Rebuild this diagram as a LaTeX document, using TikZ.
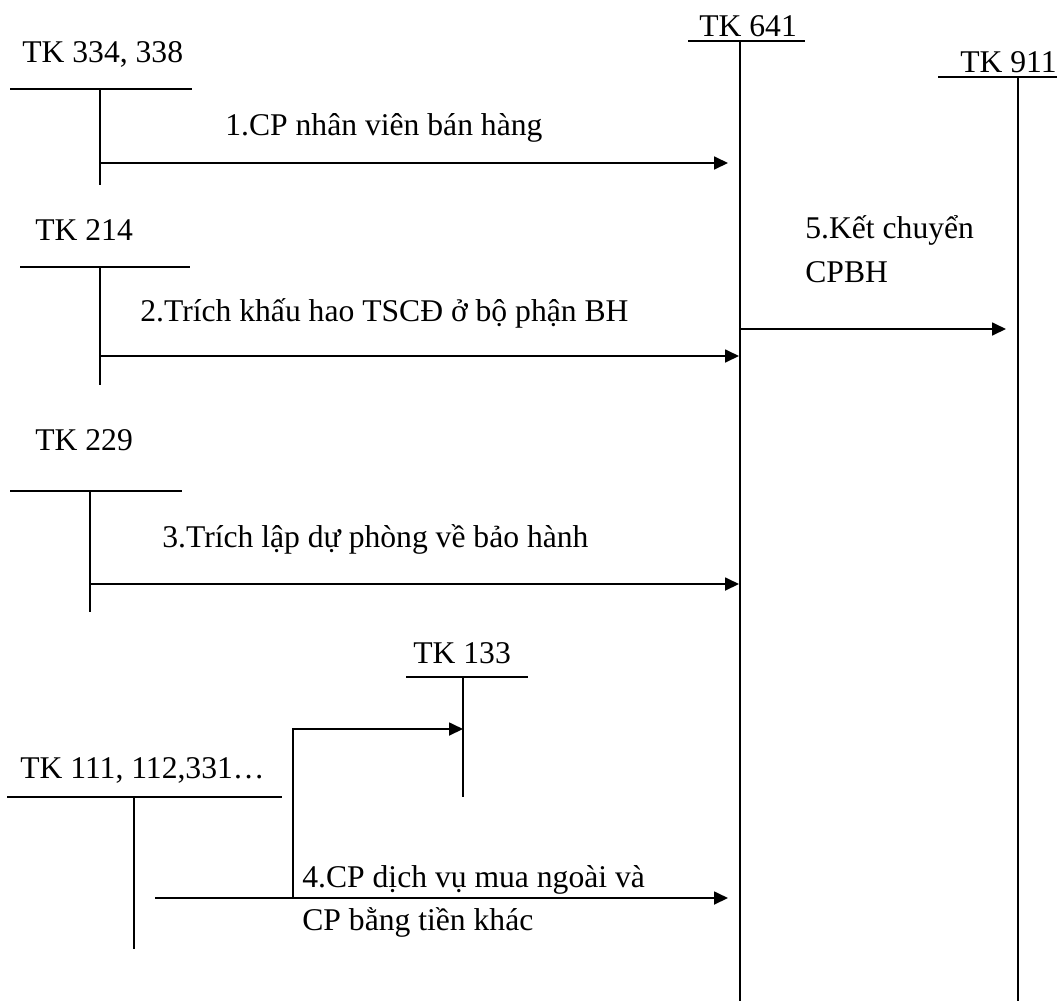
\documentclass[tikz,border=0pt]{standalone}
\usepackage{fontspec}
\setmainfont{Liberation Serif}
\usetikzlibrary{positioning,arrows.meta}
\tikzset{
  acc/.style={anchor=base west,inner sep=0pt,font=\fontsize{18}{22}\selectfont},
  lbl/.style={anchor=base west,inner sep=0pt,font=\fontsize{18}{22}\selectfont},
  tline/.style={draw=black,line width=1pt},
  flow/.style={draw=black,line width=1pt,-{Triangle[length=0.28cm,width=0.26cm]}},
}

\begin{document}
\begin{tikzpicture}[x=0.02cm,y=-0.02cm]
\useasboundingbox (0,0) rectangle (1057,1001);
% TK 641 and TK 911
\node[acc] (n641) at (699,36) {TK 641};
\coordinate (a641l) at (688,41);
\coordinate (a641r) at (805,41);
\coordinate (a641t) at (740,41);
\coordinate (a641b) at (740,1001);
\draw[tline] (a641l) -- (a641r);
\draw[tline] (a641t) -- (a641b);
\node[acc] (n911) at (960,72) {TK 911};
\coordinate (a911l) at (938,77);
\coordinate (a911r) at (1057,77);
\coordinate (a911t) at (1018,77);
\coordinate (a911b) at (1018,1001);
\draw[tline] (a911l) -- (a911r);
\draw[tline] (a911t) -- (a911b);
% TK 334, 338
\node[acc] (n334) at (22,62) {TK 334, 338};
\coordinate (a334l) at (10,89);
\coordinate (a334r) at (192,89);
\coordinate (a334t) at (100,89);
\coordinate (a334b) at (100,185);
\draw[tline] (a334l) -- (a334r);
\draw[tline] (a334t) -- (a334b);
\coordinate (f1s) at (100,163);
\coordinate (f1e) at (728,163);
\draw[flow] (f1s) -- (f1e);
\node[lbl] (l1) at (225,135) {1.CP nhân viên bán hàng};
% TK 214
\node[acc] (n214) at (35,240) {TK 214};
\coordinate (a214l) at (20,267);
\coordinate (a214r) at (190,267);
\coordinate (a214t) at (100,267);
\coordinate (a214b) at (100,385);
\draw[tline] (a214l) -- (a214r);
\draw[tline] (a214t) -- (a214b);
\coordinate (f2s) at (100,356);
\coordinate (f2e) at (739,356);
\draw[flow] (f2s) -- (f2e);
\node[lbl] (l2) at (140,321) {2.Trích khấu hao TSCĐ ở bộ phận BH};
% ket chuyen
\coordinate (f5s) at (740,329);
\coordinate (f5e) at (1006,329);
\draw[flow] (f5s) -- (f5e);
\node[lbl] (l5a) at (805,238) {5.Kết chuyển};
\node[lbl] (l5b) at (805,282) {CPBH};
% TK 229
\node[acc] (n229) at (35,450) {TK 229};
\coordinate (a229l) at (10,491);
\coordinate (a229r) at (182,491);
\coordinate (a229t) at (90,491);
\coordinate (a229b) at (90,612);
\draw[tline] (a229l) -- (a229r);
\draw[tline] (a229t) -- (a229b);
\coordinate (f3s) at (90,584);
\coordinate (f3e) at (739,584);
\draw[flow] (f3s) -- (f3e);
\node[lbl] (l3) at (162,547) {3.Trích lập dự phòng về bảo hành};
% TK 133
\node[acc] (n133) at (413,663) {TK 133};
\coordinate (a133l) at (406,677);
\coordinate (a133r) at (528,677);
\coordinate (a133t) at (463,677);
\coordinate (a133b) at (463,797);
\draw[tline] (a133l) -- (a133r);
\draw[tline] (a133t) -- (a133b);
% TK 111, 112, 331
\node[acc] (n111) at (20,778) {TK 111, 112,331…};
\coordinate (a111l) at (7,797);
\coordinate (a111r) at (282,797);
\coordinate (a111t) at (134,797);
\coordinate (a111b) at (134,949);
\draw[tline] (a111l) -- (a111r);
\draw[tline] (a111t) -- (a111b);
\coordinate (f4s) at (155,898);
\coordinate (f4m) at (293,898);
\coordinate (f4e) at (728,898);
\coordinate (f4u) at (293,729);
\coordinate (f4v) at (463,729);
\draw[flow] (f4s) -- (f4e);
\draw[flow] (f4m) -- (f4u) -- (f4v);
\node[lbl] (l4a) at (302,887) {4.CP dịch vụ mua ngoài và};
\node[lbl] (l4b) at (302,930) {CP bằng tiền khác};
\end{tikzpicture}
\end{document}
